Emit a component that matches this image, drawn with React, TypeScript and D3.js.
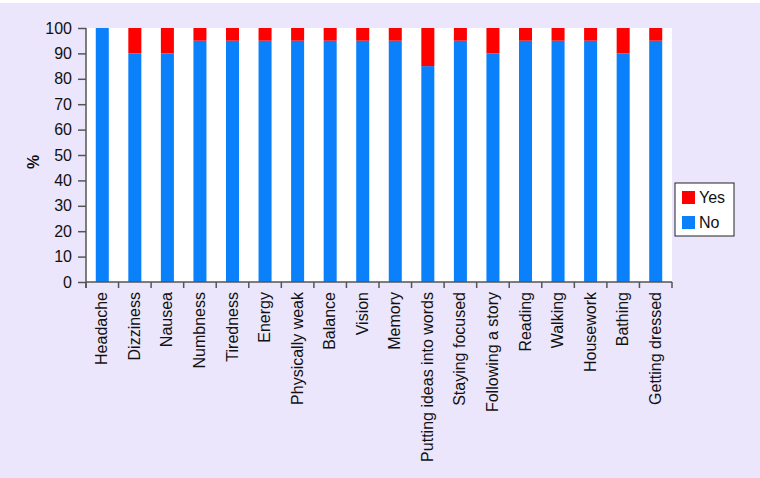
import React, { useEffect, useRef } from 'react';
import * as d3 from 'd3';

const categories = [
  'Headache', 'Dizziness', 'Nausea', 'Numbness', 'Tiredness', 'Energy',
  'Physically weak', 'Balance', 'Vision', 'Memory', 'Putting ideas into words',
  'Staying focused', 'Following a story', 'Reading', 'Walking', 'Housework',
  'Bathing', 'Getting dressed'
];
const noValues = [100, 90, 90, 95, 95, 95, 95, 95, 95, 95, 85, 95, 90, 95, 95, 95, 90, 95];
const yesValues = [0, 10, 10, 5, 5, 5, 5, 5, 5, 5, 15, 5, 10, 5, 5, 5, 10, 5];
const yTicks = [0, 10, 20, 30, 40, 50, 60, 70, 80, 90, 100];

const colors = { No: '#0a80fa', Yes: '#ff0000' };

const App = () => {
  const svgRef = useRef<SVGSVGElement | null>(null);

  useEffect(() => {
    if (!svgRef.current) return;
    const svg = d3.select(svgRef.current);
    svg.selectAll('*').remove();

    const width = 760;
    const height = 478;
    const margin = { top: 28, right: 88, bottom: 196, left: 86 };
    const font = '"Liberation Sans", Arial, sans-serif';
    const axisColor = '#555';

    svg.append('rect').attr('width', width).attr('height', height).attr('fill', '#ebe6fb');
    svg.append('rect').attr('width', width).attr('height', 3).attr('fill', '#ffffff');

    const x = d3.scaleBand()
      .domain(categories)
      .range([margin.left, width - margin.right])
      .paddingInner(0.6)
      .paddingOuter(0.3);

    const y = d3.scaleLinear()
      .domain([0, 100])
      .range([height - margin.bottom, margin.top]);

    // plot area
    svg.append('rect')
      .attr('x', margin.left)
      .attr('y', margin.top)
      .attr('width', width - margin.right - margin.left)
      .attr('height', height - margin.bottom - margin.top)
      .attr('fill', '#ffffff');

    const stacked = categories.map((c, i) => ({ c, no: noValues[i], yes: yesValues[i] }));

    // No bars
    svg.selectAll('.bar-no')
      .data(stacked)
      .enter().append('rect')
      .attr('class', 'bar-no')
      .attr('x', d => x(d.c)!)
      .attr('width', x.bandwidth())
      .attr('y', d => y(d.no))
      .attr('height', d => y(0) - y(d.no))
      .attr('fill', colors.No);

    // Yes bars
    svg.selectAll('.bar-yes')
      .data(stacked.filter(d => d.yes > 0))
      .enter().append('rect')
      .attr('class', 'bar-yes')
      .attr('x', d => x(d.c)!)
      .attr('width', x.bandwidth())
      .attr('y', d => y(d.no + d.yes))
      .attr('height', d => y(d.no) - y(d.no + d.yes))
      .attr('fill', colors.Yes);

    // y axis
    const yAxis = svg.append('g')
      .attr('transform', `translate(${margin.left},0)`)
      .call(d3.axisLeft(y).tickValues(yTicks).tickSize(8).tickPadding(6));
    yAxis.select('.domain').remove();
    yAxis.append('line')
      .attr('x1', 0).attr('x2', 0)
      .attr('y1', margin.top).attr('y2', y(0) + 6)
      .attr('stroke', axisColor).attr('stroke-width', 1.5);
    yAxis.selectAll('.tick line').attr('stroke', axisColor).attr('stroke-width', 1.5);
    yAxis.selectAll('.tick text')
      .attr('fill', '#111')
      .style('font-family', font)
      .style('font-size', '16px');

    // x axis
    const bottomY = y(0);
    const xg = svg.append('g');
    xg.append('line')
      .attr('x1', margin.left).attr('x2', width - margin.right)
      .attr('y1', bottomY).attr('y2', bottomY)
      .attr('stroke', axisColor).attr('stroke-width', 1.5);
    const step = x.step();
    const edges = d3.range(categories.length + 1).map(i => margin.left + i * step);
    xg.selectAll('.xtick')
      .data(edges)
      .enter().append('line')
      .attr('x1', d => d).attr('x2', d => d)
      .attr('y1', bottomY).attr('y2', bottomY + 6)
      .attr('stroke', axisColor).attr('stroke-width', 1.5);
    xg.selectAll('.xlabel')
      .data(categories)
      .enter().append('text')
      .attr('transform', d => `translate(${x(d)! + x.bandwidth() / 2 + 5},${bottomY + 10}) rotate(-90)`)
      .attr('text-anchor', 'end')
      .style('font-family', font)
      .style('font-size', '16px')
      .attr('fill', '#111')
      .text(d => d);

    // y label
    svg.append('text')
      .attr('transform', `translate(39,162) rotate(-90)`)
      .attr('text-anchor', 'middle')
      .style('font-family', font)
      .style('font-size', '16px')
      .style('font-weight', 'bold')
      .attr('fill', '#111')
      .text('%');

    // legend
    const lg = svg.append('g').attr('transform', 'translate(675,183)');
    lg.append('rect')
      .attr('width', 59).attr('height', 53)
      .attr('fill', '#ffffff')
      .attr('stroke', '#222').attr('stroke-width', 1);
    const items = [{ k: 'Yes', c: colors.Yes }, { k: 'No', c: colors.No }];
    items.forEach((it, i) => {
      lg.append('rect')
        .attr('x', 7).attr('y', 8 + i * 25)
        .attr('width', 13).attr('height', 13)
        .attr('fill', it.c);
      lg.append('text')
        .attr('x', 24).attr('y', 20 + i * 25)
        .style('font-family', font)
        .style('font-size', '16px')
        .attr('fill', '#111')
        .text(it.k);
    });
  }, []);

  return (
    <svg
      ref={svgRef}
      width={760}
      height={478}
      style={{ position: 'absolute', left: 0, top: 0, display: 'block' }}
    />
  );
};

export default App;
